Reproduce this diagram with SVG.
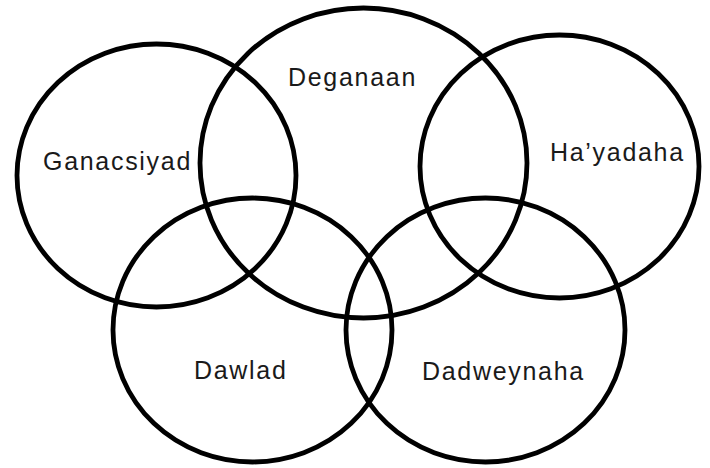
<svg xmlns="http://www.w3.org/2000/svg" width="710" height="468" viewBox="0 0 710 468">
<style>
.c{fill:none;stroke:#000;stroke-width:4.8}
.t{font-family:"Liberation Sans",Arial,sans-serif;font-size:25px;letter-spacing:1.7px;fill:#1a1a1a}
</style>
<rect width="710" height="468" fill="#fff"/>
<g id="ganacsiyad"><ellipse class="c" cx="156.5" cy="175.5" rx="139.5" ry="131.5"/><text class="t" x="43" y="170">Ganacsiyad</text></g>
<g id="deganaan"><ellipse class="c" cx="363.5" cy="163" rx="163.5" ry="155"/><text class="t" x="288" y="86">Deganaan</text></g>
<g id="hayadaha"><ellipse class="c" cx="559.5" cy="166.5" rx="139.5" ry="131.5"/><text class="t" x="550" y="161">Ha’yadaha</text></g>
<g id="dawlad"><ellipse class="c" cx="252.5" cy="330" rx="139.5" ry="132"/><text class="t" x="194" y="379">Dawlad</text></g>
<g id="dadweynaha"><ellipse class="c" cx="485.5" cy="330" rx="139.5" ry="132"/><text class="t" x="422" y="380">Dadweynaha</text></g>
<g id="connectors"/>
</svg>
